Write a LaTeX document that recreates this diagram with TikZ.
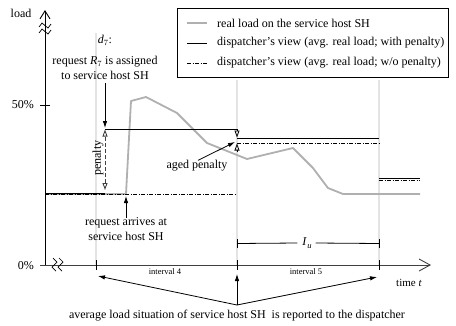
\documentclass[tikz,border=0pt]{standalone}
\usepackage{fontspec}
\setmainfont{Liberation Serif}
\usetikzlibrary{arrows.meta}
\definecolor{realgrey}{HTML}{B0B0B0}
\definecolor{guidegrey}{HTML}{E4E4E4}
\begin{document}
\begin{tikzpicture}[x=1pt,y=-1pt,
  txt/.style={font=\fontsize{12}{14.5}\selectfont, inner sep=0pt, align=center},
  small/.style={font=\fontsize{8.5}{10}\selectfont, inner sep=0pt},
  realload/.style={draw=realgrey, line width=1.8pt, line join=round},
  viewline/.style={line width=0.9pt},
  viewwo/.style={line width=0.9pt, dash pattern=on 4pt off 1.5pt on 1pt off 1.5pt},
  guide/.style={draw=guidegrey, line width=1.4pt},
  arr/.style={-{Latex[length=7pt,width=4.5pt]}, line width=0.8pt},
  hollow/.style={-{Triangle[open,length=7pt,width=5pt]}, line width=0.8pt},
  axisline/.style={line width=0.9pt},
]
\useasboundingbox (0,0) rectangle (456,325);

% guide lines
\coordinate (g4t) at (96,33);  \coordinate (g4b) at (96,265);
\coordinate (g5t) at (237,80); \coordinate (g5b) at (237,265);
\coordinate (g6t) at (379,80); \coordinate (g6b) at (379,265);
\draw[guide] (g4t) -- (g4b);
\draw[guide] (g5t) -- (g5b);
\draw[guide] (g6t) -- (g6b);

% axes
\coordinate (ybot) at (45,265.5); \coordinate (ytop) at (45,10);
\coordinate (xbeg) at (40,265);   \coordinate (xend) at (431,265);
\draw[axisline, -{Straight Barb[length=8pt,width=10pt]}] (ybot) -- (ytop);
\draw[axisline, black!75, -{Straight Barb[length=11pt,width=12pt]}] (xbeg) -- (xend);
\draw[axisline] (40,105) -- (50,105);
% axis breaks
\draw[line width=0.7pt] (39,27) -- (42,23) -- (48,28) -- (51,24);
\draw[line width=0.7pt] (39,33) -- (42,29) -- (48,34) -- (51,30);
\draw[line width=0.7pt] (53,258) -- (57,262) -- (52,267) -- (56,271);
\draw[line width=0.7pt] (59,258) -- (63,262) -- (58,267) -- (62,271);
% ticks
\draw[axisline] (96,260) -- (96,270);
\draw[axisline] (237,260) -- (237,270);
\draw[axisline] (379,260) -- (379,270);

\node[txt] (load) at (21,13) {load};
\node[txt, anchor=east] (p50) at (34,105) {50\%};
\node[txt, anchor=east] (p0) at (34,266) {0\%};

% real load
\draw[realload] (45,194) -- (126,194) -- (131,101) -- (146,97) -- (177,113) -- (207,143)
  -- (247,159) -- (293,148) -- (313,168) -- (328,188) -- (343,194) -- (420,194);

% dispatcher's view
\draw[viewline] (45,193) -- (105,193);
\draw[viewline] (105,129) -- (237,129);
\draw[viewline] (237,138) -- (379,138);
\draw[viewline] (379,178.5) -- (420,178.5);
\draw[viewwo] (45,194.5) -- (237,194.5);
\draw[viewwo] (237,143) -- (379,143);
\draw[viewwo] (379,180) -- (420,180);

% penalty
\coordinate (pentop) at (105,129.5);
\coordinate (penbot) at (105,190);
\draw[line width=0.9pt, black!75, dash pattern=on 4pt off 2pt,
  {Triangle[open,length=7pt,width=5pt]}-{Triangle[open,length=7pt,width=5pt]}] (penbot) -- (pentop);
\node[txt, rotate=90] (penalty) at (98,158) {penalty};

% d7 annotation
\node[txt] (d7) at (105,40) {\textit{d}$_{7}$:};
\node[txt] (assign) at (105,68) {request \textit{R}$_{7}$ is assigned\\to service host SH};
\draw[arr] (105,83) -- (105,128);

% aged penalty
\coordinate (agtop) at (237,129);   \coordinate (agtopt) at (237,137.5);
\coordinate (agbot) at (237,152);   \coordinate (agbott) at (237,143.5);
\draw[hollow] (agtop) -- (agtopt);
\draw[hollow] (agbot) -- (agbott);
\node[txt] (aged) at (197,166) {aged penalty};
\coordinate (agtip) at (235,142);
\draw[arr] ([xshift=1pt]aged.north) -- (agtip);

% request arrives
\node[txt] (arrive) at (126,229) {request arrives at\\service host SH};
\coordinate (arrtip) at (126,196);
\draw[arr] (arrive.north) -- (arrtip);

% I_u
\node[txt] (Iu) at (307,243) {\textit{I}\kern0.3pt\raisebox{-2.5pt}{\fontsize{8.5}{9}\selectfont\textit{u}}};
\draw[line width=0.8pt] (237,239) -- (237,248);
\draw[line width=0.8pt] (379,239) -- (379,248);
\draw[line width=0.8pt] (237,243.5) -- ([xshift=-5pt]Iu.west);
\draw[line width=0.8pt] ([xshift=4pt]Iu.east) -- (379,243.5);

% interval labels
\node[small] (i4) at (165,272) {interval 4};
\node[small] (i5) at (306,272) {interval 5};
\node[txt, font=\fontsize{11}{13}\selectfont] (time) at (409,283) {time \textit{t}};

% bottom
\node[txt] (avg) at (237,316) {average load situation of service host SH\ \ is reported to the dispatcher};
\coordinate (src) at (237,305);
\coordinate (t4) at (98,276);
\coordinate (t5) at (237,274);
\coordinate (t6) at (377,277);
\draw[arr] (src) -- (t4);
\draw[arr] (src) -- (t5);
\draw[arr] (src) -- (t6);

% legend
\node[draw, line width=0.9pt, minimum width=271pt, minimum height=69pt, anchor=north west, inner sep=0pt] (leg) at (177,8) {};
\draw[realload] (187,23) -- (207,23);
\draw[viewline] (187,43) -- (207,43);
\draw[viewwo] (187,63) -- (207,63);
\node[txt, anchor=west] (l1) at (217,23) {real load on the service host SH};
\node[txt, anchor=west] (l2) at (217,43) {dispatcher’s view (avg. real load; with penalty)};
\node[txt, anchor=west] (l3) at (217,63) {dispatcher’s view (avg. real load; w/o penalty)};
\end{tikzpicture}
\end{document}
